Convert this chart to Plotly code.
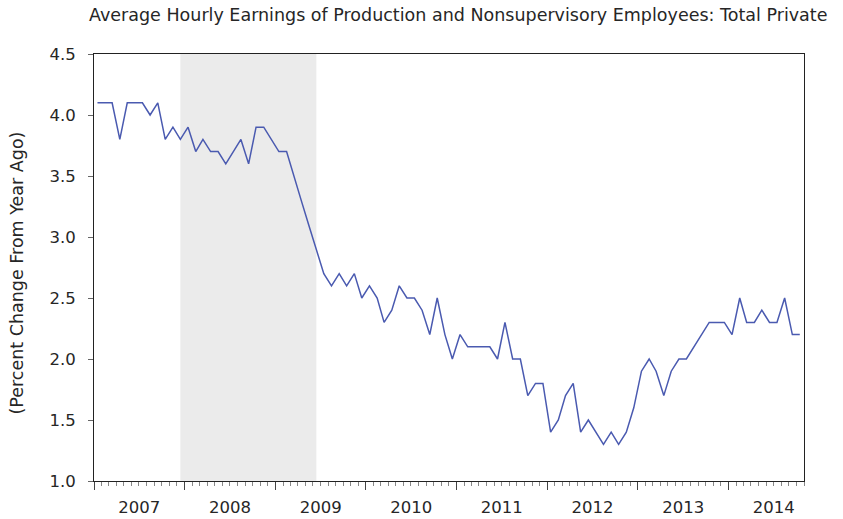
import pandas as pd
import plotly.graph_objects as go

title_text = "Average Hourly Earnings of Production and Nonsupervisory Employees: Total Private"
y_title = "(Percent Change From Year Ago)"

start_month = "2007-01-01"
values = [
    4.1, 4.1, 4.1, 3.8, 4.1, 4.1, 4.1, 4.0, 4.1, 3.8, 3.9, 3.8,   # 2007
    3.9, 3.7, 3.8, 3.7, 3.7, 3.6, 3.7, 3.8, 3.6, 3.9, 3.9, 3.8,   # 2008
    3.7, 3.7, 3.5, 3.3, 3.1, 2.9, 2.7, 2.6, 2.7, 2.6, 2.7, 2.5,   # 2009
    2.6, 2.5, 2.3, 2.4, 2.6, 2.5, 2.5, 2.4, 2.2, 2.5, 2.2, 2.0,   # 2010
    2.2, 2.1, 2.1, 2.1, 2.1, 2.0, 2.3, 2.0, 2.0, 1.7, 1.8, 1.8,   # 2011
    1.4, 1.5, 1.7, 1.8, 1.4, 1.5, 1.4, 1.3, 1.4, 1.3, 1.4, 1.6,   # 2012
    1.9, 2.0, 1.9, 1.7, 1.9, 2.0, 2.0, 2.1, 2.2, 2.3, 2.3, 2.3,   # 2013
    2.2, 2.5, 2.3, 2.3, 2.4, 2.3, 2.3, 2.5, 2.2, 2.2,             # 2014
]
recession_start = "2007-12"
recession_end = "2009-06"
y_ticks = [1.0, 1.5, 2.0, 2.5, 3.0, 3.5, 4.0, 4.5]

month_starts = pd.date_range(start_month, periods=len(values), freq="MS")
dates = month_starts + pd.Timedelta(days=14)  # observations centred in their month
x_end = month_starts[-1] + pd.offsets.MonthBegin(1)

rec_x0 = pd.Timestamp(recession_start + "-01") + pd.Timedelta(days=14)
rec_x1 = pd.Timestamp(recession_end + "-01") + pd.Timedelta(days=14)

FONT = "DejaVu Sans, Liberation Sans, sans-serif"
TXT = "#262626"

fig = go.Figure()
fig.add_trace(go.Scatter(
    x=dates, y=values, mode="lines",
    line=dict(color="#4A5AB0", width=1.5),
    hoverinfo="x+y", showlegend=False,
))

fig.add_shape(type="rect", xref="x", yref="paper",
              x0=rec_x0, x1=rec_x1, y0=0, y1=1,
              fillcolor="#EBEBEB", line=dict(width=0), layer="below")

fig.add_annotation(text=title_text, xref="paper", yref="paper",
                   x=0.512, y=1, yshift=39, xanchor="center", yanchor="middle",
                   showarrow=False, font=dict(family=FONT, size=17.5, color=TXT))
fig.add_annotation(text=y_title, xref="paper", yref="paper",
                   x=0, y=0.5, xshift=-78, yshift=-6, textangle=-90,
                   xanchor="center", yanchor="middle",
                   showarrow=False, font=dict(family=FONT, size=17.5, color=TXT))

fig.update_layout(
    width=843, height=519,
    margin=dict(l=94, r=39, t=54, b=38, autoexpand=False),
    paper_bgcolor="white", plot_bgcolor="white",
    font=dict(family=FONT, size=16.5, color=TXT),
    xaxis=dict(
        type="date",
        range=[month_starts[0], x_end],
        tick0=start_month, dtick="M12", tickformat="%Y",
        ticklabelmode="period",
        ticks="outside", ticklen=8, tickcolor="#444444", tickwidth=1,
        ticklabelstandoff=3,
        minor=dict(dtick="M1", ticks="outside", ticklen=4, tickcolor="#888888", tickwidth=1),
        showgrid=False, zeroline=False,
        showline=True, linecolor="#222222", linewidth=1, mirror=True,
        tickfont=dict(family=FONT, size=16.5, color=TXT),
    ),
    yaxis=dict(
        range=[1.0, 4.5], tickvals=y_ticks, tickformat=".1f",
        ticks="outside", ticklen=5, tickcolor="#666666", tickwidth=1,
        ticklabelstandoff=9,
        showgrid=False, zeroline=False,
        showline=True, linecolor="#222222", linewidth=1, mirror=True,
        tickfont=dict(family=FONT, size=16.5, color=TXT),
    ),
)

fig.write_html("out.html", config={"displayModeBar": False},
               post_script="document.body.style.margin='0';")
